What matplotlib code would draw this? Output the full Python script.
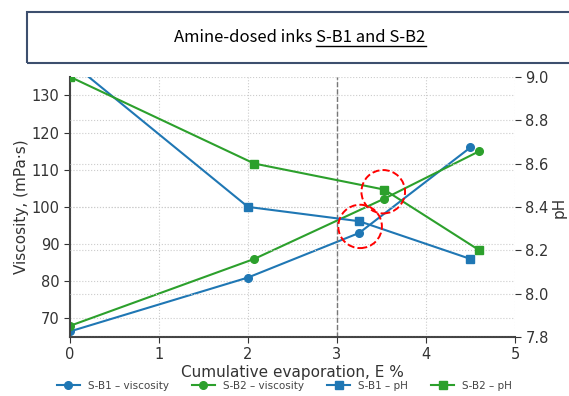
import matplotlib.pyplot as plt
from matplotlib.patches import Ellipse, Rectangle

# data
b1_x = [0, 2, 3.25, 4.5]
b1_visc = [66.5, 81, 93, 116]
b1_ph = [9.07, 8.40, 8.334, 8.16]

b2_x = [0, 2.07, 3.53, 4.6]
b2_visc = [68, 86, 102.2, 115]
b2_ph = [9.0, 8.60, 8.48, 8.20]

# highlighted points (x, pH)
marks = [(3.26, 8.31), (3.52, 8.47)]

blue = "#1f77b4"
green = "#2ca02c"

fig = plt.figure(figsize=(5.69, 3.96), dpi=100)
ax = fig.add_axes([0.123, 0.149, 0.782, 0.657])
ax2 = ax.twinx()

l1, = ax.plot(b1_x, b1_visc, color=blue, marker="o", ms=5.5, lw=1.5, label="S-B1 – viscosity")
l2, = ax.plot(b2_x, b2_visc, color=green, marker="o", ms=5.5, lw=1.5, label="S-B2 – viscosity")
l3, = ax2.plot(b1_x, b1_ph, color=blue, marker="s", ms=5.5, lw=1.5, label="S-B1 – pH")
l4, = ax2.plot(b2_x, b2_ph, color=green, marker="s", ms=5.5, lw=1.5, label="S-B2 – pH")

ax.axvline(3, color="#777777", ls="--", lw=1)

for cx, cy in marks:
    ax2.add_patch(Ellipse((cx, cy), 0.49, 0.2, fill=False, ec="red", ls="--", lw=1.4, zorder=5))

ax.set_xlim(0, 5)
ax.set_ylim(65, 135)
ax2.set_ylim(7.8, 9.0)
ax.set_yticks([70, 80, 90, 100, 110, 120, 130])
ax2.set_yticks([7.8, 8.0, 8.2, 8.4, 8.6, 8.8, 9.0])

ax.grid(True, ls=":", color="#cccccc", lw=0.8)
ax2.grid(True, ls=":", color="#cccccc", lw=0.8)

for a in (ax, ax2):
    a.spines["top"].set_visible(False)
    a.spines["right"].set_visible(False)
    a.tick_params(labelsize=10.5, colors="#333333", length=4)
ax2.spines["left"].set_visible(False)
ax2.spines["bottom"].set_visible(False)
ax.spines["left"].set_color("#444444")
ax.spines["bottom"].set_color("#444444")
ax.spines["left"].set_linewidth(1.5)
ax.spines["bottom"].set_linewidth(1.5)

ax.set_xlabel("Cumulative evaporation, E %", fontsize=11, color="#333333", labelpad=2)
ax.set_ylabel("Viscosity, (mPa·s)", fontsize=11, color="#333333", labelpad=2)
ax2.set_ylabel("pH", fontsize=11, color="#333333", labelpad=2)

fig.legend(handles=[l1, l2, l3, l4], loc="lower center", bbox_to_anchor=(0.5, -0.01),
           ncol=4, frameon=False, prop={"size": 7.5},
           labelcolor="#444444", handlelength=2.2, columnspacing=2.2)

# title box
fig.patches.append(Rectangle((27 / 569, 1 - 63 / 396), 1.0, 51 / 396, transform=fig.transFigure,
                             fill=False, ec="#3d4f6e", lw=1.5))
tfont = {"family": ["Noto Sans CJK KR", "DejaVu Sans"], "size": 12, "weight": "medium"}
t1 = fig.text(0, 0, "Amine-dosed inks ", fontdict=tfont, va="center", ha="left")
t2 = fig.text(0, 0, "S-B1 and S-B2", fontdict=tfont, va="center", ha="left")
fig.canvas.draw()
r = fig.canvas.get_renderer()
w1 = t1.get_window_extent(r).width
w2 = t2.get_window_extent(r).width
x0 = 300 - (w1 + w2) / 2
yc = 396 - 38
t1.set_position((x0 / 569, yc / 396))
t2.set_position(((x0 + w1) / 569, yc / 396))
fig.canvas.draw()
bb = t2.get_window_extent(r)
uy = (yc - 7.5) / 396
fig.add_artist(plt.Line2D([bb.x0 / 569, bb.x1 / 569], [uy, uy], transform=fig.transFigure,
                          color="black", lw=1))

fig.savefig("out.png", dpi=100)
